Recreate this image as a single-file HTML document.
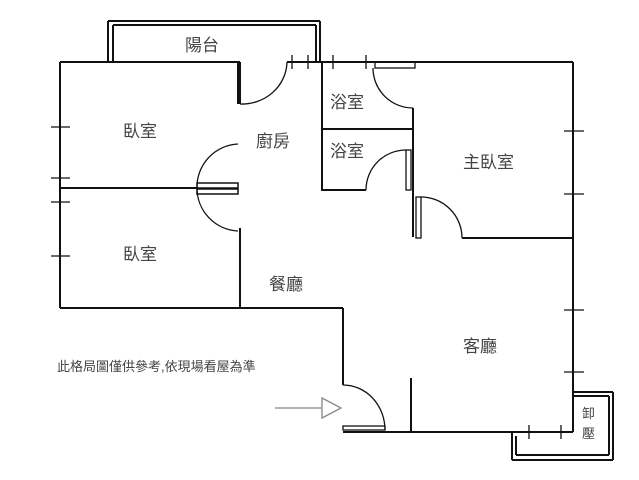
<!DOCTYPE html>
<html><head><meta charset="utf-8"><style>
body{margin:0;background:#fff;width:639px;height:480px;overflow:hidden}
svg{display:block}
text{font-family:"Liberation Sans","Noto Sans CJK TC",sans-serif;fill:#444}
</style></head><body>
<svg width="639" height="480" viewBox="0 0 639 480" fill="none" stroke="#111" stroke-width="2">
<!-- balcony top -->
<path d="M108 21H320M113 25H316M108 21V62M113 25V62M316 25V62M320 21V62"/>
<!-- bedrooms -->
<path d="M60 62H240M60 62V308M240 62V104M238 62V104"/>
<path d="M60 188H197"/>
<rect x="197" y="183" width="41" height="5" stroke-width="1.5"/>
<rect x="197" y="189" width="41" height="5" stroke-width="1.5"/>
<path d="M240 228V308M60 308H343" />
<g stroke-width="1.3">
<path d="M240 104A45 43 0 0 0 287 62"/>
<path d="M238 144A43 43 0 0 0 197 188A43 43 0 0 0 238 231"/>
</g>
<!-- top wall -->
<path d="M287 62H573M573 62V432"/>
<rect x="375" y="62" width="40" height="6" stroke-width="1.3"/>
<g stroke-width="1.3">
<path d="M292 55V69M308 55V69M333 55V69M366 55V69"/>
<path d="M51 127H70M51 178H70M51 202H70M51 256H70"/>
<path d="M564 131H584M564 194H584M564 310H584M564 372H584"/>
</g>
<!-- bathrooms -->
<path d="M322 62V190H366M322 129H413M413 108V237"/>
<g stroke-width="1.3">
<path d="M373 68A40 40 0 0 0 413 108"/>
<path d="M366 190A40 40 0 0 1 406 150"/>
<rect x="406" y="150" width="5" height="40"/>
<rect x="416" y="197" width="5" height="41"/>
<path d="M421 197A41 41 0 0 1 462 238"/>
</g>
<path d="M462 238H573"/>
<!-- entry -->
<path d="M343 308V385M343 432H573M411 378V432"/>
<g stroke-width="1.3">
<path d="M343 385A42 45 0 0 1 385 430"/>
<rect x="343" y="426" width="42" height="4"/>
</g>
<!-- small balcony -->
<path d="M573 392H613M573 396H609M609 396V455M613 392V460M512 432V460M516 436V455M516 455H609M512 460H613"/>
<path d="M529 425V439M561 425V439" stroke-width="1.3"/>
<!-- arrow -->
<g stroke="#888" stroke-width="1.3">
<path d="M275 408H322"/>
<path d="M322 398L341 408L322 418Z"/>
</g>
<g stroke="none" font-size="17">
<text x="185" y="51">陽台</text>
<text x="123" y="137">臥室</text>
<text x="256" y="147">廚房</text>
<text x="330" y="108">浴室</text>
<text x="330" y="157">浴室</text>
<text x="463" y="168">主臥室</text>
<text x="123" y="260">臥室</text>
<text x="269" y="290">餐廳</text>
<text x="463" y="352">客廳</text>
<text x="57" y="371" font-size="13">此格局圖僅供參考,依現場看屋為準</text>
<text x="582" y="418" font-size="13">卸</text>
<text x="582" y="438" font-size="13">壓</text>
</g>
</svg>
</body></html>
